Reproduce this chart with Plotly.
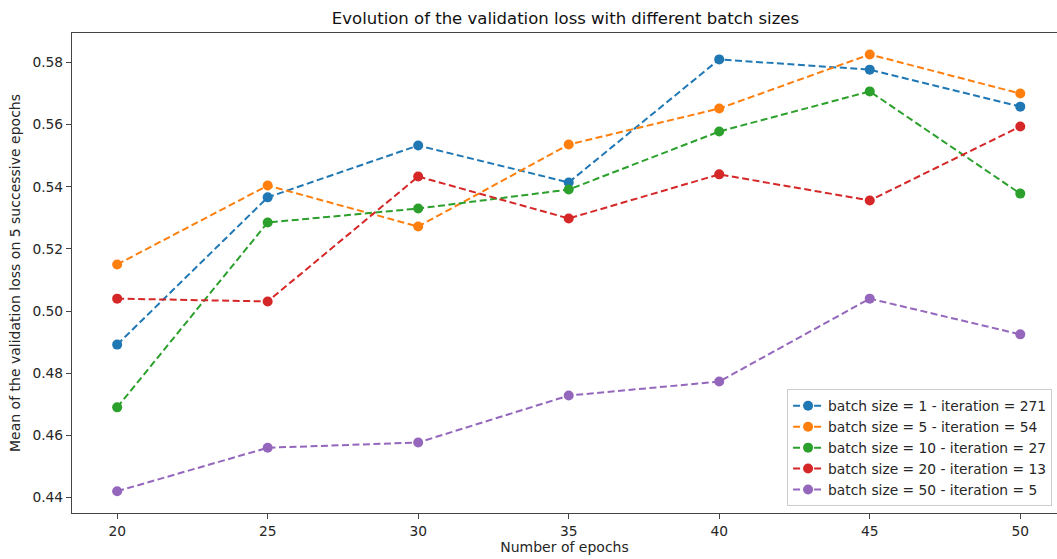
import plotly.graph_objects as go

epochs = [20, 25, 30, 35, 40, 45, 50]
bs1 = [0.4892, 0.5366, 0.5533, 0.5414, 0.5810, 0.5777, 0.5658]
bs5 = [0.5150, 0.5404, 0.5272, 0.5536, 0.5652, 0.5826, 0.5700]
bs10 = [0.4690, 0.5285, 0.5330, 0.5391, 0.5578, 0.5707, 0.5378]
bs20 = [0.5040, 0.5031, 0.5433, 0.5298, 0.5440, 0.5356, 0.5594]
bs50 = [0.4420, 0.4560, 0.4577, 0.4728, 0.4773, 0.5040, 0.4925]

names = ["batch size = 1 - iteration = 271",
         "batch size = 5 - iteration = 54",
         "batch size = 10 - iteration = 27",
         "batch size = 20 - iteration = 13",
         "batch size = 50 - iteration = 5"]
colors = ["#1f77b4", "#ff7f0e", "#2ca02c", "#d62728", "#9467bd"]
series = [bs1, bs5, bs10, bs20, bs50]

fig = go.Figure()
for nm, c, s in zip(names, colors, series):
    fig.add_trace(go.Scatter(
        x=epochs, y=s, name=nm, mode="lines+markers",
        line=dict(color=c, width=2, dash="7px,3.5px"),
        marker=dict(color=c, size=10),
    ))

axis_common = dict(
    showline=True, linecolor="#444444", linewidth=1.2,
    ticks="outside", ticklen=5, tickcolor="#444444",
    showgrid=False, zeroline=False,
    tickfont=dict(size=13.8, color="#262626"),
)

fig.update_layout(
    width=1057, height=559,
    margin=dict(l=72, r=0, t=33, b=46),
    paper_bgcolor="white", plot_bgcolor="white",
    font=dict(family="DejaVu Sans", size=13.8, color="#262626"),
    title=dict(text="Evolution of the validation loss with different batch sizes",
               x=0.535, xanchor="center", y=0.968, yanchor="middle",
               font=dict(size=16.5, color="#111111")),
    xaxis=dict(range=[18.5, 51.22], tickvals=[20, 25, 30, 35, 40, 45, 50], mirror=True,
               title=dict(text="Number of epochs", standoff=4, font=dict(size=14)),
               **axis_common),
    yaxis=dict(range=[0.435, 0.5895], mirror=False,
               tickvals=[0.44, 0.46, 0.48, 0.50, 0.52, 0.54, 0.56, 0.58],
               ticktext=["0.44", "0.46", "0.48", "0.50", "0.52", "0.54", "0.56", "0.58"],
               title=dict(text="Mean of the validation loss on 5 successive epochs",
                          standoff=8, font=dict(size=14)),
               **axis_common),
    legend=dict(x=0.995, xanchor="right", y=0.014, yanchor="bottom",
                bgcolor="rgba(255,255,255,0.8)", bordercolor="#cccccc", borderwidth=1,
                font=dict(size=13.8), tracegroupgap=0, itemwidth=30),
    showlegend=True,
)

fig.write_html("out.html")
